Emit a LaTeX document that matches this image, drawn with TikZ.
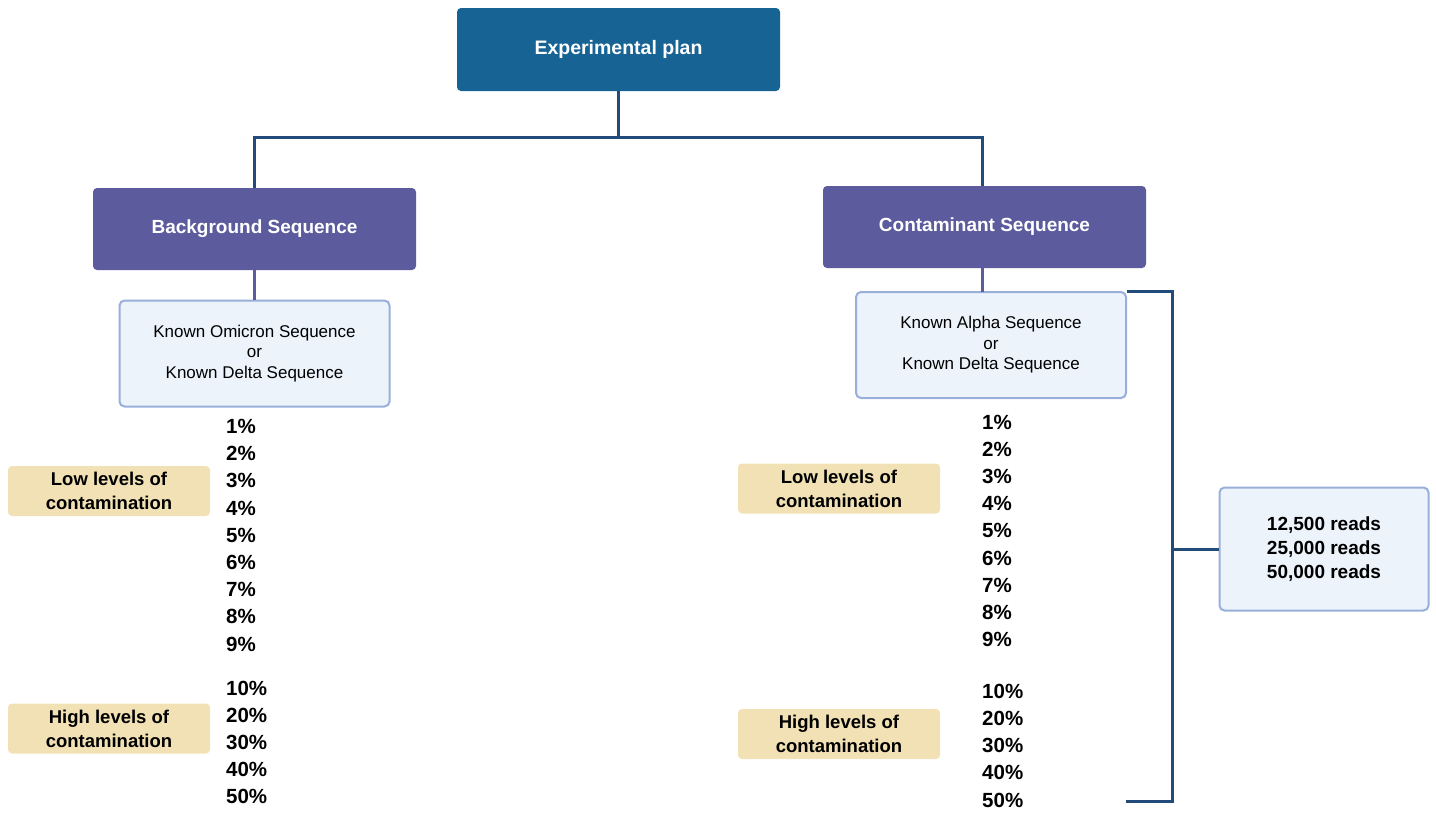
\documentclass[tikz,border=0pt]{standalone}
\usepackage{fontspec}
\setmainfont{Liberation Sans}
\usepackage{tikz}
\usetikzlibrary{positioning}
\usepackage{xcolor}
\definecolor{planblue}{HTML}{166394}
\definecolor{trunkblue}{HTML}{234B79}
\definecolor{seqpurple}{HTML}{5C5B9E}
\definecolor{paleblue}{HTML}{ECF3FB}
\definecolor{paleedge}{HTML}{98B0D9}
\definecolor{tan}{HTML}{F1E1B4}
\tikzset{>=latex}

\begin{document}
\begin{tikzpicture}[x=1pt, y=-1pt]
                % boxes are placed at pixel coordinates of the plan
                \tikzstyle{every node}=[inner sep=0pt, align=center]
                \tikzstyle{plan}=[rectangle, rounded corners=4pt, fill=planblue, text=white, minimum width=323pt, minimum height=83pt, font=\fontsize{19.5}{23}\selectfont\bfseries]
                \tikzstyle{seq}=[rectangle, rounded corners=4pt, fill=seqpurple, text=white, minimum width=323pt, minimum height=82pt, font=\fontsize{19}{22}\selectfont\bfseries]
                \tikzstyle{known}=[rectangle, rounded corners=5pt, draw=paleedge, line width=2pt, fill=paleblue, minimum width=270pt, minimum height=106pt, font=\fontsize{17}{20.5}\selectfont]
                \tikzstyle{level}=[rectangle, rounded corners=4pt, fill=tan, minimum width=202pt, minimum height=50pt, font=\fontsize{18.5}{24}\selectfont\bfseries]
                \tikzstyle{pct}=[anchor=base west, font=\fontsize{20.5}{24}\selectfont\bfseries]
                \tikzstyle{trunk}=[trunkblue, line width=3pt]
                \tikzstyle{twig}=[seqpurple, line width=3pt]

                \useasboundingbox (0,0) rectangle (1436,812);

                \node[plan] (plan) at (618.5, 49.5) {Experimental plan};
                \node[seq] (bg) at (254.5, 229) {Background Sequence};
                \node[seq] (cont) at (984.5, 227) {Contaminant Sequence};

                \draw[trunk] (plan.south) -- ++(0,46) coordinate (hub);
                \draw[trunk] (bg.north) |- (hub) -| (982, 186);

                \node[known] (bgseq) at (254.5, 353.5) {Known Omicron Sequence\\or\\Known Delta Sequence};
                \node[known] (contseq) at (991, 345) {Known Alpha Sequence\\or\\Known Delta Sequence};
                \draw[twig] (bg.south) -- (bgseq.north);
                \draw[twig] (982, 268) -- (982, 292);

                % contamination levels
                \node[level] (lowL) at (109, 491) {Low levels of\\contamination};
                \node[level] (highL) at (109, 728.5) {High levels of\\contamination};
                \node[level] (lowR) at (839, 488.5) {Low levels of\\contamination};
                \node[level] (highR) at (839, 734) {High levels of\\contamination};

                \foreach \p [count=\i] in {1,2,3,4,5,6,7,8,9}
                        \node[pct] (pl\i) at (226, {433.5+27.2*(\i-1)}) {\p\%};
                \foreach \p [count=\i] in {10,20,30,40,50}
                        \node[pct] (ph\i) at (226, {695+27*(\i-1)}) {\p\%};
                \foreach \p [count=\i] in {1,2,3,4,5,6,7,8,9}
                        \node[pct] (ql\i) at (982, {429.5+27.1*(\i-1)}) {\p\%};
                \foreach \p [count=\i] in {10,20,30,40,50}
                        \node[pct] (qh\i) at (982, {698+27.25*(\i-1)}) {\p\%};

                % read depths
                \node[known, minimum width=209pt, minimum height=123pt, font=\fontsize{19}{24}\selectfont\bfseries] (reads) at (1324, 549) {12,500 reads\\25,000 reads\\50,000 reads};
                \coordinate (brk) at (1172, 549);
                \coordinate (brkend) at (1126, 801);
                \draw[trunk] (contseq.north east) -| (brk) |- (brkend);
                \draw[trunk] (brk) -- (reads.west);
\end{tikzpicture}
\end{document}
